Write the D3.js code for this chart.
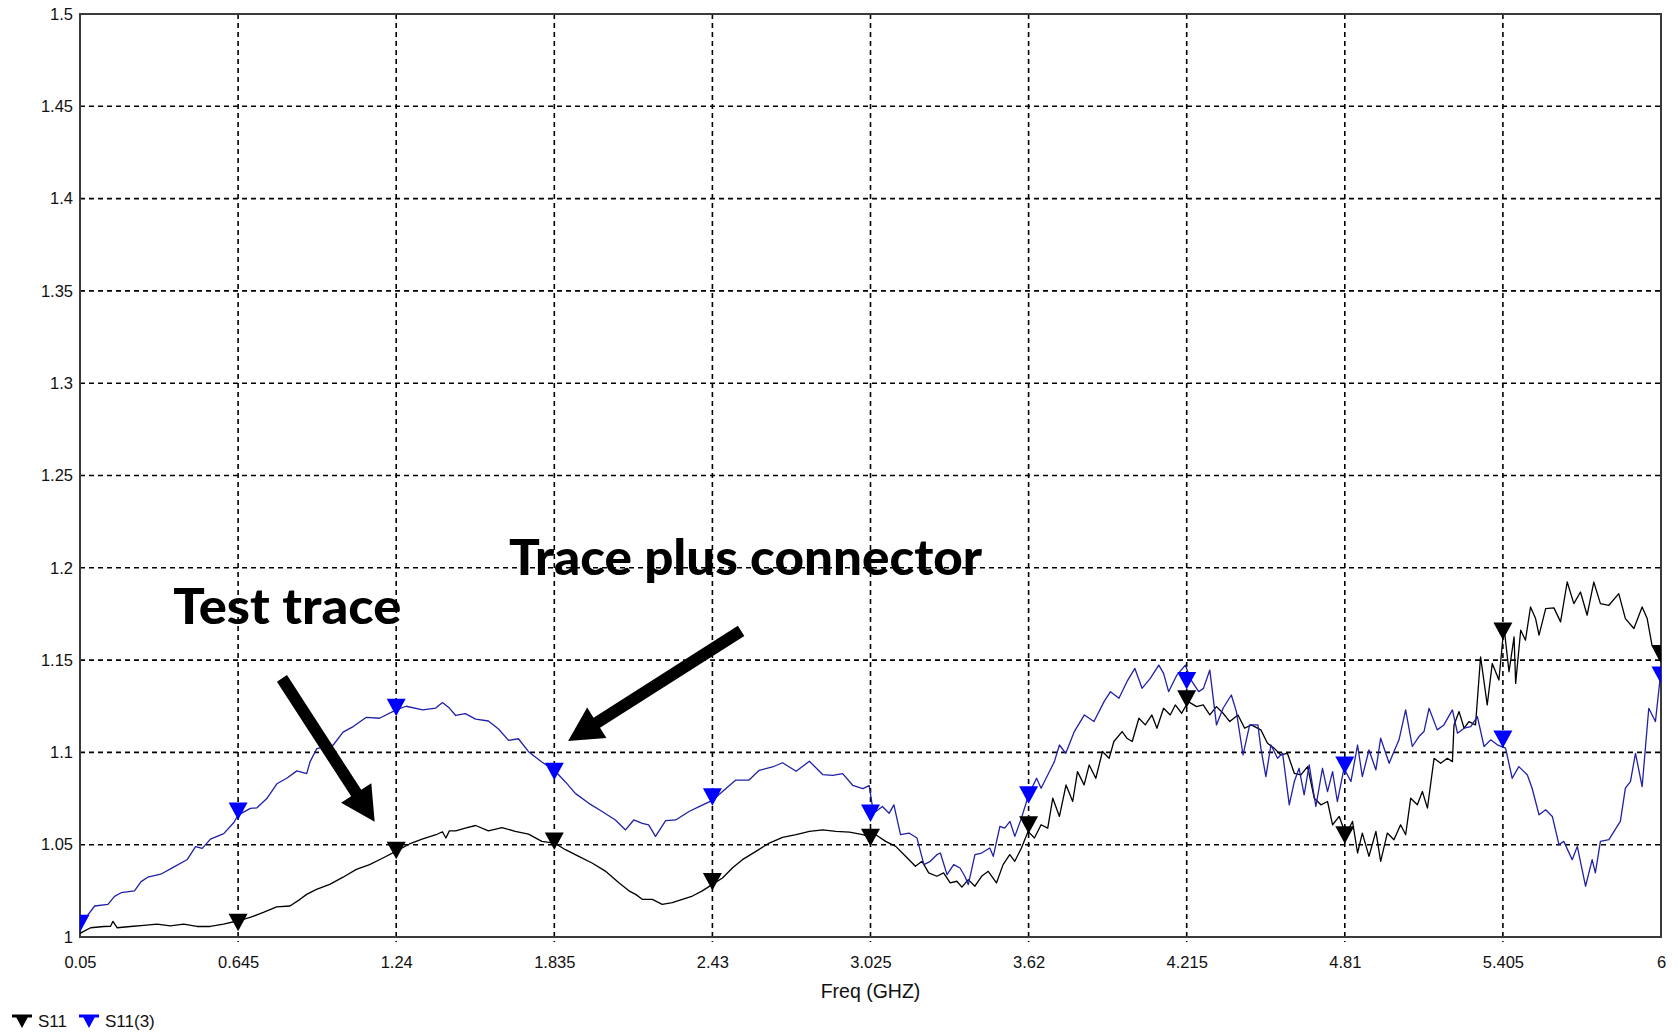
<!DOCTYPE html>
<html>
<head>
<meta charset="utf-8">
<script src="https://cdn.jsdelivr.net/npm/d3@7"></script>
<style>
  body { margin: 0; background: #fff; }
  svg { display: block; }
</style>
</head>
<body>
<div id="chart"></div>
<script>
// ── Data ────────────────────────────────────────────────────────────────
const xTicks = [0.05, 0.645, 1.24, 1.835, 2.43, 3.025, 3.62, 4.215, 4.81, 5.405, 6];
const yTicks = [1, 1.05, 1.1, 1.15, 1.2, 1.25, 1.3, 1.35, 1.4, 1.45, 1.5];

// S11 — test trace (black)
const s11Points = [
  [0.05, 1.002], [0.09, 1.005], [0.14, 1.0057], [0.165, 1.0058], [0.174, 1.0085],
  [0.19, 1.005], [0.24, 1.0057], [0.29, 1.0063], [0.34, 1.007], [0.39, 1.006],
  [0.44, 1.007], [0.49, 1.0057], [0.54, 1.0057], [0.59, 1.007], [0.645, 1.0088],
  [0.69, 1.0106], [0.74, 1.0133], [0.79, 1.0163], [0.84, 1.0168], [0.878, 1.0204],
  [0.903, 1.0231], [0.94, 1.0258], [0.99, 1.0285], [1.04, 1.0324], [1.09, 1.0366],
  [1.14, 1.0392], [1.19, 1.0428], [1.24, 1.0465], [1.29, 1.0504], [1.34, 1.0532],
  [1.39, 1.0554], [1.414, 1.057], [1.427, 1.0536], [1.44, 1.0575], [1.464, 1.0575],
  [1.5, 1.059], [1.539, 1.0604], [1.587, 1.0575], [1.638, 1.0593], [1.688, 1.0572],
  [1.738, 1.0557], [1.788, 1.0518], [1.835, 1.0509], [1.877, 1.0473], [1.927, 1.0437],
  [1.977, 1.0401], [2.027, 1.0357], [2.078, 1.0294], [2.116, 1.025], [2.141, 1.0231],
  [2.166, 1.0204], [2.204, 1.0204], [2.241, 1.0177], [2.279, 1.0186], [2.317, 1.0204],
  [2.355, 1.0222], [2.392, 1.025], [2.43, 1.0285], [2.468, 1.032], [2.506, 1.0375],
  [2.543, 1.0419], [2.594, 1.0464], [2.644, 1.0509], [2.694, 1.054], [2.745, 1.0554],
  [2.795, 1.0572], [2.845, 1.058], [2.895, 1.0572], [2.946, 1.0568], [2.996, 1.0554],
  [3.034, 1.0536], [3.045, 1.0554], [3.082, 1.0518], [3.12, 1.0491], [3.157, 1.0437],
  [3.194, 1.0383], [3.219, 1.041], [3.244, 1.0347], [3.275, 1.0329], [3.3, 1.0347],
  [3.325, 1.0293], [3.35, 1.0302], [3.369, 1.027], [3.393, 1.0311], [3.418, 1.0275],
  [3.443, 1.0329], [3.468, 1.0356], [3.499, 1.0293], [3.524, 1.0392], [3.549, 1.0446],
  [3.568, 1.041], [3.593, 1.0482], [3.618, 1.0572], [3.642, 1.0536], [3.667, 1.0608],
  [3.692, 1.059], [3.711, 1.0752], [3.736, 1.0653], [3.761, 1.0824], [3.786, 1.0734],
  [3.804, 1.0896], [3.829, 1.0824], [3.848, 1.0932], [3.873, 1.086], [3.898, 1.1005],
  [3.923, 1.0968], [3.941, 1.1059], [3.972, 1.1113], [3.99, 1.1077], [4.01, 1.1059],
  [4.035, 1.1185], [4.059, 1.1149], [4.084, 1.1203], [4.103, 1.1131], [4.128, 1.1239],
  [4.153, 1.1203], [4.172, 1.1257], [4.196, 1.1212], [4.221, 1.1275], [4.252, 1.1248],
  [4.277, 1.1257], [4.302, 1.1203], [4.327, 1.1248], [4.352, 1.1212], [4.377, 1.1167],
  [4.408, 1.1203], [4.433, 1.1131], [4.458, 1.1149], [4.494, 1.1122], [4.519, 1.105],
  [4.544, 1.1023], [4.569, 1.0986], [4.594, 1.0995], [4.62, 1.0887], [4.645, 1.0878],
  [4.67, 1.0923], [4.695, 1.0752], [4.72, 1.0716], [4.745, 1.0734], [4.764, 1.0608],
  [4.789, 1.0653], [4.814, 1.0554], [4.839, 1.0626], [4.858, 1.0455], [4.876, 1.0563],
  [4.901, 1.0437], [4.927, 1.0572], [4.945, 1.041], [4.97, 1.0563], [4.995, 1.0527],
  [5.02, 1.0608], [5.039, 1.0554], [5.058, 1.0752], [5.083, 1.0716], [5.102, 1.0788],
  [5.121, 1.0698], [5.146, 1.0968], [5.171, 1.0941], [5.196, 1.0968], [5.215, 1.095],
  [5.221, 1.1149], [5.24, 1.1221], [5.259, 1.1131], [5.277, 1.1167], [5.302, 1.1149],
  [5.321, 1.1518], [5.346, 1.1257], [5.365, 1.1482], [5.39, 1.1392], [5.409, 1.168],
  [5.428, 1.1437], [5.447, 1.1626], [5.453, 1.1374], [5.472, 1.1662], [5.49, 1.1608],
  [5.509, 1.1788], [5.528, 1.1725], [5.541, 1.1635], [5.566, 1.1779], [5.597, 1.1783],
  [5.622, 1.1707], [5.647, 1.1923], [5.672, 1.1806], [5.697, 1.1869], [5.722, 1.1743],
  [5.747, 1.1923], [5.772, 1.1806], [5.804, 1.1797], [5.841, 1.186], [5.866, 1.1725],
  [5.898, 1.1671], [5.929, 1.1788], [5.948, 1.1725], [5.966, 1.1581], [5.992, 1.1509],
  [6.0, 1.149]
];

// S11(3) — trace plus connector (blue)
const s113Points = [
  [0.05, 1.004], [0.075, 1.011], [0.105, 1.0168], [0.155, 1.0177], [0.18, 1.022],
  [0.205, 1.024], [0.255, 1.025], [0.28, 1.03], [0.305, 1.0324], [0.354, 1.034],
  [0.404, 1.038], [0.454, 1.042], [0.485, 1.049], [0.51, 1.048], [0.541, 1.053],
  [0.591, 1.056], [0.629, 1.062], [0.645, 1.066], [0.691, 1.0697], [0.716, 1.07],
  [0.753, 1.075], [0.791, 1.083], [0.828, 1.086], [0.866, 1.09], [0.903, 1.0885],
  [0.916, 1.095], [0.941, 1.102], [1.003, 1.104], [1.04, 1.111], [1.078, 1.114],
  [1.128, 1.119], [1.177, 1.1185], [1.24, 1.123], [1.277, 1.125], [1.34, 1.123],
  [1.389, 1.124], [1.414, 1.127], [1.44, 1.124], [1.464, 1.12], [1.5, 1.121],
  [1.539, 1.118], [1.587, 1.117], [1.625, 1.1127], [1.663, 1.1065], [1.7, 1.1074],
  [1.738, 1.1004], [1.788, 1.0948], [1.835, 1.0903], [1.877, 1.084], [1.914, 1.0778],
  [1.965, 1.0724], [2.015, 1.068], [2.065, 1.0634], [2.103, 1.058], [2.134, 1.0634],
  [2.166, 1.0616], [2.19, 1.0607], [2.216, 1.0545], [2.254, 1.063], [2.292, 1.0634],
  [2.342, 1.068], [2.38, 1.0706], [2.43, 1.074], [2.468, 1.0788], [2.518, 1.085],
  [2.568, 1.085], [2.606, 1.0903], [2.656, 1.0921], [2.694, 1.0944], [2.745, 1.0898],
  [2.795, 1.0952], [2.845, 1.088], [2.883, 1.0876], [2.92, 1.0885], [2.958, 1.0822],
  [2.996, 1.0804], [3.02, 1.082], [3.033, 1.07], [3.045, 1.068], [3.07, 1.0707],
  [3.095, 1.067], [3.113, 1.0716], [3.138, 1.0554], [3.17, 1.0563], [3.2, 1.0536],
  [3.226, 1.0392], [3.25, 1.041], [3.275, 1.0446], [3.288, 1.0455], [3.313, 1.0338],
  [3.338, 1.0392], [3.362, 1.0374], [3.38, 1.0329], [3.393, 1.0284], [3.418, 1.0446],
  [3.443, 1.0455], [3.474, 1.0482], [3.487, 1.0437], [3.512, 1.0599], [3.53, 1.059],
  [3.55, 1.0626], [3.568, 1.0545], [3.593, 1.0644], [3.62, 1.077], [3.65, 1.086],
  [3.667, 1.0806], [3.692, 1.0878], [3.717, 1.095], [3.736, 1.104], [3.76, 1.0995],
  [3.792, 1.1113], [3.83, 1.1203], [3.866, 1.1167], [3.904, 1.1275], [3.928, 1.1329],
  [3.96, 1.1293], [3.99, 1.1383], [4.02, 1.1455], [4.047, 1.1347], [4.078, 1.1401],
  [4.11, 1.1473], [4.128, 1.1428], [4.147, 1.1329], [4.178, 1.1419], [4.21, 1.1473],
  [4.228, 1.14], [4.26, 1.1329], [4.278, 1.1347], [4.302, 1.1446], [4.327, 1.1149],
  [4.352, 1.1239], [4.383, 1.1311], [4.402, 1.1221], [4.427, 1.0986], [4.452, 1.1149],
  [4.483, 1.1149], [4.494, 1.1023], [4.513, 1.0869], [4.532, 1.104], [4.557, 1.0968],
  [4.576, 1.0995], [4.601, 1.0716], [4.62, 1.0842], [4.638, 1.0914], [4.657, 1.077],
  [4.676, 1.0932], [4.701, 1.0707], [4.726, 1.0914], [4.745, 1.0788], [4.764, 1.0896],
  [4.782, 1.0734], [4.807, 1.0914], [4.833, 1.0842], [4.858, 1.104], [4.876, 1.0869],
  [4.901, 1.1013], [4.927, 1.0905], [4.945, 1.1077], [4.977, 1.0941], [4.995, 1.1005],
  [5.014, 1.1068], [5.039, 1.123], [5.064, 1.1032], [5.089, 1.1086], [5.108, 1.1113],
  [5.127, 1.1239], [5.158, 1.1122], [5.183, 1.1149], [5.215, 1.123], [5.234, 1.1104],
  [5.259, 1.1131], [5.284, 1.114], [5.309, 1.1194], [5.334, 1.1032], [5.359, 1.1068],
  [5.384, 1.1041], [5.415, 1.1023], [5.44, 1.086], [5.465, 1.0923], [5.497, 1.0878],
  [5.515, 1.0806], [5.541, 1.0662], [5.566, 1.0689], [5.591, 1.0653], [5.616, 1.05],
  [5.634, 1.0518], [5.666, 1.0419], [5.685, 1.0491], [5.716, 1.0275], [5.741, 1.0419],
  [5.753, 1.0347], [5.772, 1.0518], [5.804, 1.0527], [5.835, 1.0599], [5.847, 1.0626],
  [5.866, 1.0806], [5.885, 1.0842], [5.904, 1.0995], [5.929, 1.0815], [5.954, 1.1239],
  [5.979, 1.1167], [5.998, 1.1419], [6.0, 1.143]
];

// Triangle markers sitting on the curves
const s11Markers = [
  [0.645, 1.008], [1.24, 1.047], [1.835, 1.052], [2.43, 1.030], [3.025, 1.054],
  [3.62, 1.0608], [4.215, 1.129], [4.81, 1.0554], [5.405, 1.1657], [6, 1.1536]
];
const s113Markers = [
  [0.05, 1.0075], [0.645, 1.0683], [1.24, 1.1245], [1.835, 1.0898], [2.43, 1.076],
  [3.025, 1.0672], [3.62, 1.077], [4.215, 1.139], [4.81, 1.0932], [5.405, 1.1073],
  [6, 1.1419]
];

// Annotations: text anchor + arrows (tail -> tip) in data units
const annoLabels = [
  { text: "Test trace", f: 0.401, v: 1.1698, width: 228 },
  { text: "Trace plus connector", f: 1.665, v: 1.1959, width: 473 }
];
const annoArrows = [
  { from: [0.81, 1.1401], to: [1.159, 1.0625] },
  { from: [2.538, 1.1658], to: [1.887, 1.1062] }
];

const seriesNames = ["S11", "S11(3)"];

function renderChart(selector) {
  // ── Dimensions ─────────────────────────────────────────────────────────
  const W = 1677, H = 1032;
  const margin = { top: 14, right: 16, bottom: 95, left: 80 };
  const width = W - margin.left - margin.right;
  const height = H - margin.top - margin.bottom;

  const container = d3.select(selector);
  container.selectAll("*").remove();

  const svg = container
    .append("svg")
    .attr("width", W)
    .attr("height", H)
    .style("background", "#fff");

  const g = svg
    .append("g")
    .attr("transform", `translate(${margin.left},${margin.top})`);

  // ── Scales ─────────────────────────────────────────────────────────────
  const x = d3.scaleLinear().domain([0.05, 6]).range([0, width]);
  const y = d3.scaleLinear().domain([1, 1.5]).range([height, 0]);

  const LABEL_FONT = "'Liberation Sans', Arial, sans-serif";

  // ── Clip ───────────────────────────────────────────────────────────────
  svg.append("defs")
    .append("clipPath")
    .attr("id", "plot-clip")
    .append("rect")
    .attr("width", width)
    .attr("height", height);

  // ── Grid Lines ─────────────────────────────────────────────────────────
  const grid = g.append("g").attr("class", "grid");

  grid.selectAll(".vgrid")
    .data(xTicks.slice(1, -1))
    .join("line")
    .attr("x1", (d) => x(d))
    .attr("x2", (d) => x(d))
    .attr("y1", 0)
    .attr("y2", height + 5)
    .attr("stroke", "#000")
    .attr("stroke-width", 1.6)
    .attr("stroke-dasharray", "5,4");

  grid.selectAll(".hgrid")
    .data(yTicks.slice(1, -1))
    .join("line")
    .attr("x1", 0)
    .attr("x2", width)
    .attr("y1", (d) => y(d))
    .attr("y2", (d) => y(d))
    .attr("stroke", "#000")
    .attr("stroke-width", 1.6)
    .attr("stroke-dasharray", "5,4");

  // ── Axes ───────────────────────────────────────────────────────────────
  g.append("g")
    .attr("class", "axis axis-x")
    .attr("transform", `translate(0,${height})`)
    .call(
      d3.axisBottom(x)
        .tickValues(xTicks)
        .tickSize(0)
        .tickPadding(19)
        .tickFormat((d) => String(d)),
    )
    .call((ax) => ax.select(".domain").remove())
    .call((ax) =>
      ax.selectAll("text")
        .attr("font-family", LABEL_FONT)
        .attr("font-size", 16.5)
        .attr("fill", "#111"),
    );

  g.append("g")
    .attr("class", "axis axis-y")
    .call(
      d3.axisLeft(y)
        .tickValues(yTicks)
        .tickSize(0)
        .tickPadding(7)
        .tickFormat((d) => String(d)),
    )
    .call((ax) => ax.select(".domain").remove())
    .call((ax) =>
      ax.selectAll("text")
        .attr("font-family", LABEL_FONT)
        .attr("font-size", 16.5)
        .attr("fill", "#111"),
    );

  // ── Frame ──────────────────────────────────────────────────────────────
  g.append("rect")
    .attr("width", width)
    .attr("height", height)
    .attr("fill", "none")
    .attr("stroke", "#3a3a3a")
    .attr("stroke-width", 2);

  // ── Axis Label ─────────────────────────────────────────────────────────
  g.append("text")
    .attr("x", width / 2)
    .attr("y", height + 61)
    .attr("text-anchor", "middle")
    .attr("font-family", LABEL_FONT)
    .attr("font-size", 19.5)
    .attr("fill", "#111")
    .text("Freq (GHZ)");

  // ── Traces ─────────────────────────────────────────────────────────────
  const line = d3.line()
    .x((d) => x(d[0]))
    .y((d) => y(d[1]));

  const plot = g.append("g").attr("clip-path", "url(#plot-clip)");

  plot.append("path")
    .datum(s11Points)
    .attr("fill", "none")
    .attr("stroke", "#000")
    .attr("stroke-width", 1.3)
    .attr("stroke-linejoin", "round")
    .attr("d", line);

  plot.append("path")
    .datum(s113Points)
    .attr("fill", "none")
    .attr("stroke", "#2020a8")
    .attr("stroke-width", 1.3)
    .attr("stroke-linejoin", "round")
    .attr("d", line);

  // ── Markers ────────────────────────────────────────────────────────────
  const tri = "M-9.5,-8.5 L9.5,-8.5 L0,9 Z";

  plot.selectAll(".m-s11")
    .data(s11Markers)
    .join("path")
    .attr("class", "m-s11")
    .attr("transform", (d) => `translate(${x(d[0])},${y(d[1])})`)
    .attr("d", tri)
    .attr("fill", "#000");

  plot.selectAll(".m-s113")
    .data(s113Markers)
    .join("path")
    .attr("class", "m-s113")
    .attr("transform", (d) => `translate(${x(d[0])},${y(d[1])})`)
    .attr("d", tri)
    .attr("fill", "#0000ff");

  // ── Annotations ────────────────────────────────────────────────────────
  const SHAFT = 6, HEAD_LEN = 34, HEAD_HALF = 18;

  g.selectAll(".anno-arrow")
    .data(annoArrows)
    .join("path")
    .attr("class", "anno-arrow")
    .attr("fill", "#000")
    .attr("d", (d) => {
      const x0 = x(d.from[0]), y0 = y(d.from[1]);
      const x1 = x(d.to[0]), y1 = y(d.to[1]);
      const len = Math.hypot(x1 - x0, y1 - y0);
      const ux = (x1 - x0) / len, uy = (y1 - y0) / len;
      const px = -uy, py = ux;
      const bx = x1 - ux * HEAD_LEN, by = y1 - uy * HEAD_LEN;
      const pts = [
        [x0 + px * SHAFT, y0 + py * SHAFT],
        [bx + px * SHAFT, by + py * SHAFT],
        [bx + px * HEAD_HALF, by + py * HEAD_HALF],
        [x1, y1],
        [bx - px * HEAD_HALF, by - py * HEAD_HALF],
        [bx - px * SHAFT, by - py * SHAFT],
        [x0 - px * SHAFT, y0 - py * SHAFT],
      ];
      return "M" + pts.map((p) => p.join(",")).join("L") + "Z";
    });

  g.selectAll(".anno-label")
    .data(annoLabels)
    .join("text")
    .attr("class", "anno-label")
    .attr("x", (d) => x(d.f))
    .attr("y", (d) => y(d.v))
    .attr("font-family", "Lato, 'Open Sans', sans-serif")
    .attr("font-weight", 900)
    .attr("font-size", 49)
    .attr("fill", "#000")
    .attr("textLength", (d) => d.width)
    .attr("lengthAdjust", "spacingAndGlyphs")
    .text((d) => d.text);

  // ── Legend ─────────────────────────────────────────────────────────────
  const legendColors = ["#000", "#0000ff"];
  const legendX = [22, 89];

  const legend = svg.append("g")
    .attr("class", "legend")
    .attr("transform", "translate(0,1021)");

  const item = legend.selectAll(".legend-item")
    .data(seriesNames)
    .join("g")
    .attr("class", "legend-item")
    .attr("transform", (d, i) => `translate(${legendX[i]},0)`);

  item.append("line")
    .attr("x1", -10)
    .attr("x2", 10)
    .attr("y1", -5)
    .attr("y2", -5)
    .attr("stroke", (d, i) => legendColors[i])
    .attr("stroke-width", 3);

  item.append("path")
    .attr("d", "M-7,-6 L7,-6 L0,7 Z")
    .attr("fill", (d, i) => legendColors[i]);

  item.append("text")
    .attr("x", 16)
    .attr("y", 0)
    .attr("dy", "0.35em")
    .attr("font-family", LABEL_FONT)
    .attr("font-size", 17)
    .attr("fill", "#111")
    .text((d) => d);
}

// ── Render Chart ─────────────────────────────────────────────────────────
renderChart("#chart");
</script>
</body>
</html>
